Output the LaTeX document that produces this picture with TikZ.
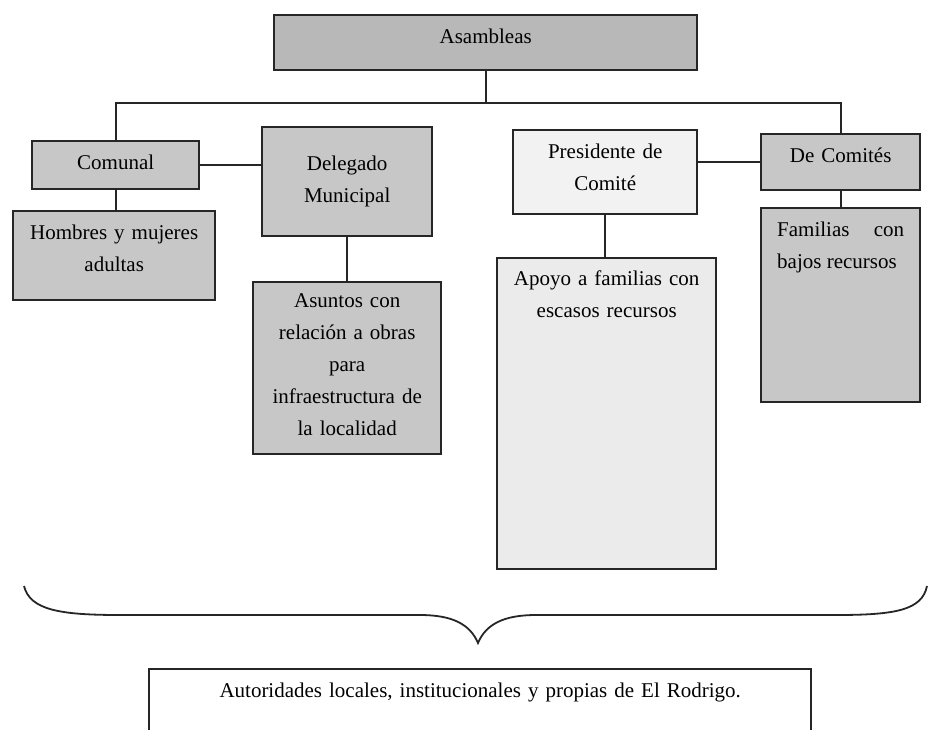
\documentclass[tikz,border=0pt]{standalone}
\usepackage{fontspec}
\setmainfont{Liberation Serif}
\definecolor{grisAsam}{gray}{0.72}
\definecolor{grisCaja}{gray}{0.78}
\definecolor{grisApoyo}{gray}{0.92}
\definecolor{grisPresi}{gray}{0.95}
\definecolor{borde}{gray}{0.15}

\begin{document}
\begin{tikzpicture}[x=1pt, y=-1pt,
  caja/.style={draw=borde, line width=2.4pt, anchor=north west, inner sep=0pt,
    align=center, font=\fontsize{21}{32}\selectfont},
  linea/.style={draw=borde, line width=2.2pt}]

  \useasboundingbox (0,0) rectangle (928,729);
  \clip (0,0) rectangle (928,729);

  \node[caja, fill=grisAsam, text width=423pt, text height=28pt, text depth=27pt] (asam) at (273,14) {Asambleas};

  \node[caja, fill=grisCaja, text width=167pt, text height=28pt, text depth=20pt] (comunal) at (31,140) {Comunal};
  \node[caja, fill=grisCaja, text width=202pt, text height=28pt, text depth=61pt] (hombres) at (12,210) {Hombres y mujeres\\adultas};

  \node[caja, fill=grisCaja, text width=170pt, text height=43pt, text depth=66pt] (delegado) at (261,126) {Delegado\\Municipal};
  \node[caja, fill=grisCaja, text width=188pt, text height=25pt, text depth=147pt] (asuntos) at (252,281) {Asuntos con\\relación a obras\\para\\infraestructura de\\la localidad};

  \node[caja, fill=grisPresi, text width=184pt, text height=28pt, text depth=56pt] (presi) at (512,129) {Presidente de\\Comité};
  \node[caja, fill=grisApoyo, text width=219pt, text height=27pt, text depth=284pt] (apoyo) at (496,257) {Apoyo a familias con\\escasos recursos};

  \node[caja, fill=grisCaja, text width=159pt, text height=28pt, text depth=28pt] (decom) at (760,133) {De Comités};
  \node[caja, fill=grisCaja, align=justify, inner xsep=16pt, text width=127pt, text height=28pt, text depth=166pt] (familias) at (760,207) {Familias con bajos recursos};

  \node[caja, text width=662pt, text height=28pt, text depth=52pt] (autoridades) at (148,668) {Autoridades locales, institucionales y propias de El Rodrigo.};

  %% arbol
  \coordinate (barra) at (asam.south |- 0,103);
  \draw[linea] (asam.south) -- (barra);
  \draw[linea] (comunal.north) |- (barra) -| (decom.north);
  \draw[linea] (comunal.east) -- (comunal.east -| delegado.west);
  \draw[linea] (comunal.south) -- (comunal.south |- hombres.north);
  \draw[linea] (delegado.south) -- (delegado.south |- asuntos.north);
  \draw[linea] (decom.west -| presi.east) -- (decom.west);
  \draw[linea] (presi.south) -- (presi.south |- apoyo.north);
  \draw[linea] (decom.south) -- (familias.north);

  %% llave
  \draw[draw=borde, line width=1.8pt] (24,586) .. controls (30,610) and (60,615) .. (120,615)
    -- (420,615) .. controls (452,615) and (470,624) .. (478,643)
    .. controls (486,624) and (504,615) .. (536,615)
    -- (836,615) .. controls (896,615) and (922,610) .. (927,586);
\end{tikzpicture}
\end{document}
